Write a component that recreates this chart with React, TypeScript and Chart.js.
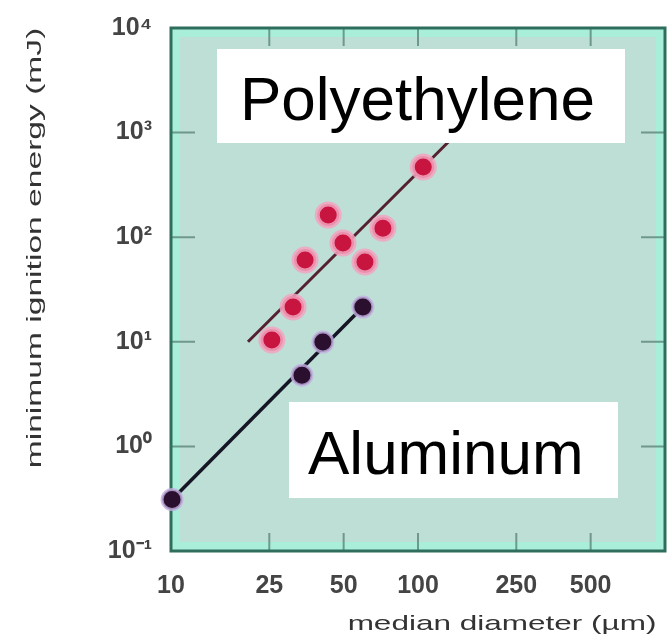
import React, { useEffect, useRef } from "react";
import { Chart, registerables } from "chart.js";

Chart.register(...registerables);

const xTickValues = [10, 25, 50, 100, 250, 500];
const xTickLabels = ["10", "25", "50", "100", "250", "500"];
const yTickValues = [0.1, 1, 10, 100, 1000, 10000];
const yTickLabels = ["10\u207B\u00B9", "10\u2070", "10\u00B9", "10\u00B2", "10\u00B3", "10\u2074"];

const polyX = [25.6, 31.2, 34.9, 43.3, 49.7, 61, 72.1, 105];
const polyY = [10.4, 21.5, 60.5, 163, 88, 58, 122, 469];
const alX = [10.1, 33.9, 41.2, 59.8];
const alY = [0.31, 4.8, 9.95, 21.5];

const polyFitX = [20.5, 163];
const polyFitY = [10, 1318];
const alFitX = [10.1, 59.8];
const alFitY = [0.31, 21.5];

const xTitle = "median diameter (\u00B5m)";
const yTitle = "minimum ignition energy (mJ)";
const polyLabel = "Polyethylene";
const alLabel = "Aluminum";

const FONT = "'Liberation Sans', Arial, sans-serif";

const decorPlugin = {
  id: "decor",
  beforeDatasetsDraw(chart: any) {
    const { ctx, chartArea: a, scales } = chart;
    const x = scales.x;
    const y = scales.y;
    ctx.save();
    ctx.fillStyle = "#a9eed9";
    ctx.fillRect(a.left, a.top, a.right - a.left, a.bottom - a.top);
    ctx.fillStyle = "#bddfd6";
    ctx.fillRect(a.left + 9, a.top + 9, a.right - a.left - 18, a.bottom - a.top - 18);
    ctx.strokeStyle = "rgba(80,120,108,0.7)";
    ctx.lineWidth = 2;
    yTickValues.forEach((v) => {
      const py = y.getPixelForValue(v);
      ctx.beginPath();
      ctx.moveTo(a.left, py);
      ctx.lineTo(a.left + 24, py);
      ctx.moveTo(a.right, py);
      ctx.lineTo(a.right - 24, py);
      ctx.stroke();
    });
    xTickValues.forEach((v) => {
      const px = x.getPixelForValue(v);
      ctx.beginPath();
      ctx.moveTo(px, a.bottom);
      ctx.lineTo(px, a.bottom - 18);
      ctx.moveTo(px, a.top);
      ctx.lineTo(px, a.top + 18);
      ctx.stroke();
    });
    ctx.strokeStyle = "#2f6e5c";
    ctx.lineWidth = 3;
    ctx.strokeRect(a.left, a.top, a.right - a.left, a.bottom - a.top);
    ctx.restore();
  },
  afterDatasetsDraw(chart: any) {
    const { ctx } = chart;
    ctx.save();
    ctx.fillStyle = "#ffffff";
    ctx.fillRect(217, 49, 408, 94);
    ctx.fillRect(289, 402, 329, 96);
    ctx.fillStyle = "#000000";
    ctx.font = `62px ${FONT}`;
    ctx.textAlign = "left";
    ctx.textBaseline = "alphabetic";
    ctx.fillText(polyLabel, 240, 120);
    ctx.fillText(alLabel, 308, 474);
    ctx.fillStyle = "#333333";
    ctx.font = `21px ${FONT}`;
    ctx.textAlign = "center";
    ctx.textBaseline = "middle";
    ctx.save();
    ctx.translate(502, 624);
    ctx.scale(1.5, 1);
    ctx.fillText(xTitle, 0, 0);
    ctx.restore();
    ctx.save();
    ctx.translate(35, 248);
    ctx.rotate(-Math.PI / 2);
    ctx.scale(1.6, 1);
    ctx.fillText(yTitle, 0, 0);
    ctx.restore();
    ctx.restore();
  },
};

export default function App() {
  const ref = useRef<HTMLCanvasElement>(null);
  useEffect(() => {
    if (!ref.current) return;
    const toPts = (xs: number[], ys: number[]) => xs.map((v, i) => ({ x: v, y: ys[i] }));
    const chart = new Chart(ref.current, {
      type: "scatter",
      data: {
        datasets: [
          {
            data: toPts(polyX, polyY),
            pointRadius: 11,
            pointBorderWidth: 5,
            pointBackgroundColor: "#c8153f",
            pointBorderColor: "rgba(242,165,192,0.85)",
            showLine: false,
            clip: false,
          } as any,
          {
            data: toPts(alX, alY),
            pointRadius: 10,
            pointBorderWidth: 3,
            pointBackgroundColor: "#2a0f2e",
            pointBorderColor: "rgba(195,175,225,0.8)",
            showLine: false,
            clip: false,
          },
          {
            data: toPts(polyFitX, polyFitY),
            showLine: true,
            pointRadius: 0,
            borderColor: "#55202f",
            borderWidth: 3,
            clip: false,
          },
          {
            data: toPts(alFitX, alFitY),
            showLine: true,
            pointRadius: 0,
            borderColor: "#151525",
            borderWidth: 3.5,
            clip: false,
          },
        ],
      },
      options: {
        animation: false,
        responsive: false,
        events: [],
        layout: { autoPadding: false, padding: { top: 28, right: 5, left: 0, bottom: 0 } },
        plugins: { legend: { display: false }, tooltip: { enabled: false } },
        scales: {
          x: {
            type: "logarithmic",
            min: 10,
            max: 1000,
            grid: { display: false, drawTicks: false },
            border: { display: false },
            afterBuildTicks: (s: any) => {
              s.ticks = xTickValues.map((v) => ({ value: v }));
            },
            afterFit: (s: any) => {
              s.height = 90;
              s.paddingLeft = 0;
              s.paddingRight = 0;
            },
            ticks: {
              autoSkip: false,
              maxRotation: 0,
              padding: 20,
              color: "#444444",
              font: { family: FONT, size: 25, weight: "bold" },
              callback: (v: any) => {
                const i = xTickValues.indexOf(Number(v));
                return i >= 0 ? xTickLabels[i] : "";
              },
            },
          },
          y: {
            type: "logarithmic",
            min: 0.1,
            max: 10000,
            grid: { display: false, drawTicks: false },
            border: { display: false },
            afterBuildTicks: (s: any) => {
              s.ticks = yTickValues.map((v) => ({ value: v }));
            },
            afterFit: (s: any) => {
              s.width = 171;
              s.paddingTop = 0;
              s.paddingBottom = 0;
            },
            ticks: {
              autoSkip: false,
              padding: 19,
              color: "#444444",
              font: { family: FONT, size: 25, weight: "bold" },
              callback: (v: any) => {
                const i = yTickValues.findIndex((t) => Math.abs(t - Number(v)) < t * 1e-6);
                return i >= 0 ? yTickLabels[i] : "";
              },
            },
          },
        },
      },
      plugins: [decorPlugin],
    });
    return () => chart.destroy();
  }, []);
  return (
    <div style={{ position: "absolute", left: 0, top: 0, width: 670, height: 641, background: "#fff" }}>
      <canvas ref={ref} width={670} height={641} />
    </div>
  );
}
